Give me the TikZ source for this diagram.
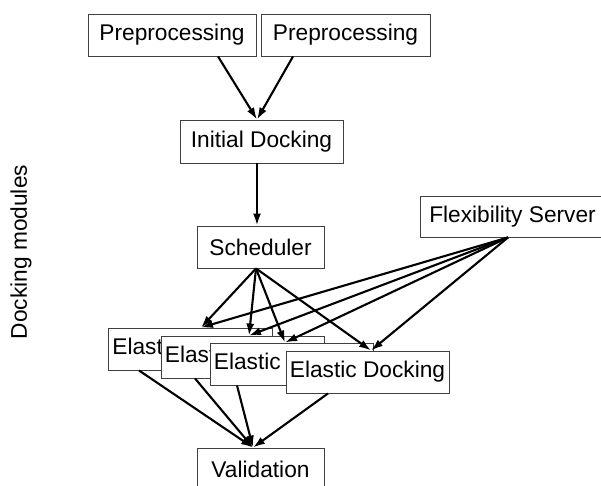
\documentclass[tikz,border=0pt]{standalone}
\usepackage{fontspec}
\setmainfont{Liberation Sans}
\usetikzlibrary{arrows.meta}
\begin{document}
\begin{tikzpicture}[x=1pt,y=-1pt,
  box/.style={draw=black!75, line width=0.9pt, fill=white, inner sep=0pt,
    minimum height=42pt, font=\fontsize{22.7}{26}\selectfont},
  arr/.style={line width=2.1pt, -{Latex[length=12pt,width=8pt]}},
  lbl/.style={inner sep=0pt, font=\fontsize{22.7}{26}\selectfont}]
\useasboundingbox (0,0) rectangle (601,486);
\node[box, minimum width=168pt] (P1) at (172,35) {Preprocessing};
\node[box, minimum width=169pt] (P2) at (345.5,35) {Preprocessing};
\node[box, minimum width=163pt, minimum height=43pt] (ID) at (261.5,141.5) {Initial Docking};
\node[box, minimum width=127pt] (Sch) at (260.5,247) {Scheduler};
\node[box, minimum width=185pt, minimum height=41pt] (Flex) at (512.5,216.5) {Flexibility Server};
\node[box, minimum width=127pt] (Val) at (260.5,469) {Validation};
\node[box, minimum width=164pt] (E1) at (190,349) {Elastic Docking};
\node[box, minimum width=163pt] (E2) at (242.5,357) {Elastic Docking};
\node[box, minimum width=163pt] (E3) at (291.5,364) {Elastic Docking};
\node[box, minimum width=163pt] (E4) at (367.5,372) {Elastic Docking};
\node[lbl, rotate=90] (DM) at (21,252) {Docking modules};
% arrows
\draw[arr] ([xshift=46pt]P1.south) -- ([xshift=-4.5pt]ID.north);
\draw[arr] ([xshift=-52.5pt]P2.south) -- ([xshift=-4.5pt]ID.north);
\draw[arr] ([xshift=-4.5pt]ID.south) -- ([xshift=-3.5pt]Sch.north);
\draw[arr] ([xshift=-4.5pt]Sch.south) -- ([xshift=11pt]E1.north);
\draw[arr] ([xshift=-4.5pt]Sch.south) -- ([xshift=6.5pt]E2.north);
\draw[arr] ([xshift=-4.5pt]Sch.south) -- ([xshift=-6.5pt]E3.north);
\draw[arr] ([xshift=-4.5pt]Sch.south) -- ([xshift=3.5pt]E4.north);
\draw[arr] ([xshift=-4.5pt]Flex.south) -- ([xshift=11pt]E1.north);
\draw[arr] ([xshift=-4.5pt]Flex.south) -- ([xshift=6.5pt]E2.north);
\draw[arr] ([xshift=-4.5pt]Flex.south) -- ([xshift=-6.5pt]E3.north);
\draw[arr] ([xshift=-4.5pt]Flex.south) -- ([xshift=3.5pt]E4.north);
\draw[arr] ([xshift=-51pt]E1.south) -- ([xshift=-7.5pt]Val.north);
\draw[arr] ([xshift=-47.5pt]E2.south) -- ([xshift=-7.5pt]Val.north);
\draw[arr] ([xshift=-54.5pt]E3.south) -- ([xshift=-7.5pt]Val.north);
\draw[arr] ([xshift=-39.5pt]E4.south) -- ([xshift=-7.5pt]Val.north);
\end{tikzpicture}
\end{document}
